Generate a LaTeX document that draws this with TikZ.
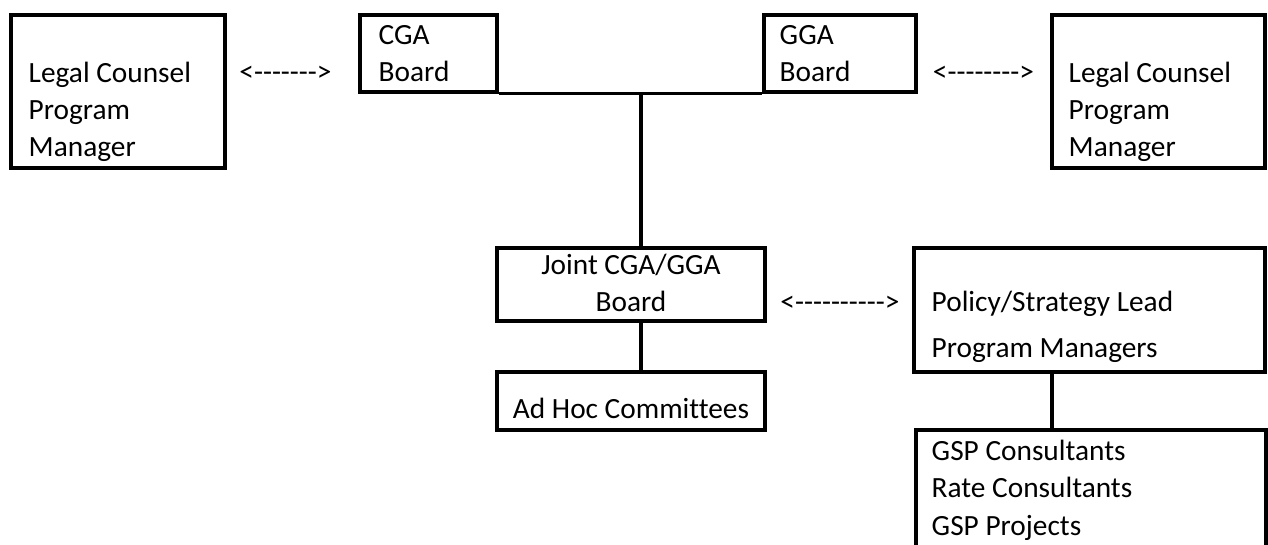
\documentclass[tikz,border=0pt]{standalone}
\usepackage{fontspec}
\setmainfont{Carlito}[Ligatures={TeXOff,CommonOff}]
\begin{document}
\begin{tikzpicture}[x=0.75pt, y=-0.75pt, line width=2.6pt, font=\fontsize{22}{28}\selectfont,
  box/.style={draw, rectangle, inner sep=0pt},
  txt/.style={anchor=base west, align=left, inner sep=0pt}]
\clip (0,0) rectangle (1268,545);
% top row
\node[box, minimum width=160.5pt, minimum height=114.75pt] (legalL) at (118,91.5) {};
\node[box, minimum width=102.75pt, minimum height=57.75pt] (cga) at (428.5,53.5) {};
\node[box, minimum width=114pt, minimum height=57.75pt] (gga) at (840,53.5) {};
\node[box, minimum width=159.75pt, minimum height=114.75pt] (legalR) at (1158.5,91.5) {};
% middle and bottom
\node[box, minimum width=201pt, minimum height=54.75pt] (joint) at (631,284.5) {};
\node[box, minimum width=201pt, minimum height=43.5pt] (adhoc) at (631,401) {};
\node[box, minimum width=263.25pt, minimum height=93pt] (policy) at (1089.5,310) {};
\node[box, minimum width=262.5pt, minimum height=105pt] (gsp) at (1091,500) {};
% texts (base = last line)
\node[txt] (legalL-t) at (27,157) {Legal Counsel\\Program\\Manager};
\node[txt] (cga-t) at (377,82) {CGA\\Board};
\node[txt] (gga-t) at (778,82) {GGA\\Board};
\node[txt] (legalR-t) at (1067,157) {Legal Counsel\\Program\\Manager};
\node[txt, anchor=base, align=center] (joint-t) at (631,312) {Joint CGA/GGA\\Board};
\node[txt, anchor=base] (adhoc-t) at (631,418) {Ad Hoc Committees};
\node[txt] (policy-t) at (930,358) {Policy/Strategy Lead\\[6.5pt]Program Managers};
\node[txt] (gsp-t) at (930,535) {GSP Consultants\\Rate Consultants\\GSP Projects};
% text arrows
\node[txt, anchor=base] (arrL) at (285.5,82) {<------->};
\node[txt, anchor=base] (arrR) at (983.5,82) {<-------->};
\node[txt, anchor=base] (arrM) at (840,312) {<---------->};
% lines
\draw (cga.south east) -- (gga.south west);
\coordinate (tee) at (641,92);
\draw (tee) -- (tee |- joint.north);
\draw (joint.south -| tee) -- (adhoc.north -| tee);
\coordinate (drop) at (1052,0);
\draw (policy.south -| drop) -- (gsp.north -| drop);
\end{tikzpicture}
\end{document}
